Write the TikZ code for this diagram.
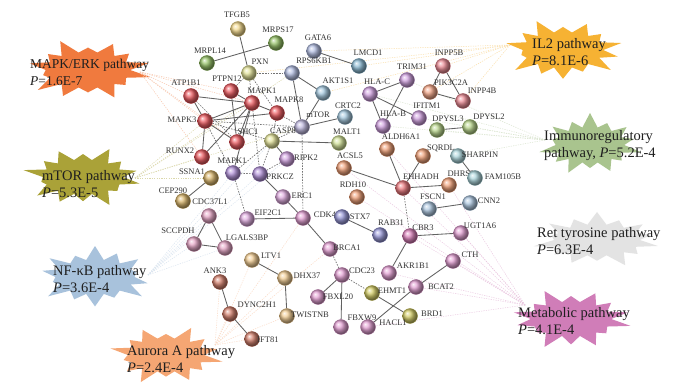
\documentclass[tikz,border=0pt]{standalone}
\usepackage{fontspec}
\setmainfont{Liberation Serif}
\pgfdeclarelayer{bursts}
\pgfdeclarelayer{links}
\pgfsetlayers{bursts,links,main}
\definecolor{cRed}{HTML}{E8333A}
\definecolor{cYel}{HTML}{F0D070}
\definecolor{cPaleY}{HTML}{DCDC80}
\definecolor{cGreen}{HTML}{7CB342}
\definecolor{cSlate}{HTML}{A0AEDC}
\definecolor{cLtBlue}{HTML}{8FBCD8}
\definecolor{cTeal}{HTML}{6FA9C8}
\definecolor{cLav}{HTML}{B0A8D8}
\definecolor{cPurple}{HTML}{A078D0}
\definecolor{cLilac}{HTML}{C58AD8}
\definecolor{cPinkRed}{HTML}{E8707C}
\definecolor{cSalmon}{HTML}{F0906A}
\definecolor{cOlG}{HTML}{A8CC70}
\definecolor{cPaleG}{HTML}{C8DC80}
\definecolor{cOrange}{HTML}{EC8A58}
\definecolor{cEhh}{HTML}{E85A60}
\definecolor{cCyan}{HTML}{98CCD4}
\definecolor{cSteel}{HTML}{98B8D8}
\definecolor{cIndigo}{HTML}{8080D0}
\definecolor{cPink}{HTML}{DC88C8}
\definecolor{cMag}{HTML}{D060A8}
\definecolor{cPinkL}{HTML}{D898D8}
\definecolor{cOliveY}{HTML}{C8C040}
\definecolor{cOchre}{HTML}{D0A448}
\definecolor{cTan}{HTML}{EEC078}
\definecolor{cBrown}{HTML}{C86048}
\definecolor{cPinkB}{HTML}{E090B8}
\definecolor{bMAPK}{HTML}{F07A3E}
\definecolor{bMTOR}{HTML}{AAA238}
\definecolor{bNFKB}{HTML}{A8C2DC}
\definecolor{bAUR}{HTML}{F5A673}
\definecolor{bIL}{HTML}{F6B233}
\definecolor{bIMM}{HTML}{A9C48E}
\definecolor{bRET}{HTML}{E3E3E3}
\definecolor{bMET}{HTML}{D07DB8}
\tikzset{
  ball/.style={circle, minimum size=15pt, inner sep=0pt, shade, ball color=#1!78!white, draw=#1!70!black, line width=0.3pt},
  lab/.style={font=\fontsize{8.5}{9}\selectfont, text=black!80, inner sep=0pt},
  ptext/.style={anchor=west, align=left, inner sep=0pt, text=black!88, font=\fontsize{14.5}{17}\selectfont},
  pe/.style={draw=black!62, line width=0.85pt},
  pd/.style={draw=black!55, line width=0.7pt, dash pattern=on 1.5pt off 1.3pt},
  pw/.style={draw=#1!42!white, line width=0.5pt, dash pattern=on 1.2pt off 1.2pt}
}
\newcommand\prot[5]{\node[ball=#3] (#1) at (#2) {}; \node[lab] (#1l) at (#4) {#5};}
\newcommand\burst[5]{%
  \pgfmathsetmacro\bxi{0.66*#2}\pgfmathsetmacro\byi{0.56*#3}%
  \fill[#4, shift={(#1)}] (0:{\bxi} and {\byi})
  \foreach \f [count=\i from 0, evaluate=\i as \ao using \i*360/14+180/14,
     evaluate=\i as \ai using (\i+1)*360/14, evaluate=\f as \xo using \f*#2,
     evaluate=\f as \yo using \f*#3] in {#5} { -- (\ao:{\xo} and {\yo}) -- (\ai:{\bxi} and {\byi}) } -- cycle;}
\begin{document}
\begin{tikzpicture}[x=1pt,y=-1pt]
\useasboundingbox (0,0) rectangle (681,385);
% ---------- bursts ----------
\begin{pgfonlayer}{bursts}
\fill[white] (0,0) rectangle (681,385);
\burst{88,70}{64}{32}{bMAPK}{1,0.75,0.95,0.7,0.9,1,0.72,0.93,0.8,1,0.7,0.9,0.82,0.97}
\burst{83,177}{61}{31}{bMTOR}{0.95,0.72,1,0.78,0.88,0.96,0.7,1,0.82,0.92,0.74,1,0.8,0.9}
\burst{95,277}{60}{31}{bNFKB}{0.9,1,0.74,0.95,0.8,1,0.72,0.9,0.97,0.76,1,0.84,0.92,0.7}
\burst{166,355}{58}{30}{bAUR}{1,0.8,0.92,0.72,1,0.86,0.75,0.98,0.8,0.93,0.7,1,0.85,0.9}
\burst{563,50}{61}{32}{bIL}{0.92,1,0.75,0.9,0.82,1,0.7,0.95,0.85,1,0.72,0.9,0.8,0.98}
\burst{590,145}{52}{32}{bIMM}{1,0.78,0.9,0.72,0.96,0.84,1,0.74,0.92,0.8,1,0.76,0.9,0.86}
\burst{597,240}{65}{28}{bRET}{0.96,0.8,1,0.74,0.9,0.84,1,0.72,0.94,0.82,1,0.78,0.9,0.86}
\burst{571,319}{61}{31}{bMET}{1,0.74,0.94,0.82,1,0.7,0.9,0.96,0.78,1,0.74,0.92,0.84,0.95}
\end{pgfonlayer}
% ---------- pathway texts ----------
\node[ptext, font=\fontsize{13.5}{17}\selectfont] (tMAPK) at (30,72) {MAPK/ERK pathway\\\textit{P}=1.6E-7};
\node[ptext] (tMTOR) at (42,184) {mTOR pathway\\\textit{P}=5.3E-5};
\node[ptext] (tNFKB) at (53,279) {NF-κB pathway\\\textit{P}=3.6E-4};
\node[ptext] (tAUR) at (127,359) {Aurora A pathway\\\textit{P}=2.4E-4};
\node[ptext] (tIL) at (532,52) {IL2 pathway\\\textit{P}=8.1E-6};
\node[ptext] (tIMM) at (544,146) {Immunoregulatory\\pathway, \textit{P}=5.2E-4};
\node[ptext] (tRET) at (537,241) {Ret tyrosine pathway\\\textit{P}=6.3E-4};
\node[ptext] (tMET) at (518,321) {Metabolic pathway\\\textit{P}=4.1E-4};
% ---------- proteins ----------
\prot{TFGB5}{238,29}{cYel}{237,15}{TFGB5}
\prot{MRPS17}{276,43}{cGreen}{278,30}{MRPS17}
\prot{MRPL14}{207,63}{cGreen}{210,51}{MRPL14}
\prot{GATA6}{314,51}{cSlate}{318,38}{GATA6}
\prot{PXN}{249,73}{cPaleY}{260,62}{PXN}
\prot{RPS6KB1}{292,73}{cSlate}{314,61}{RPS6KB1}
\prot{LMCD1}{359,66}{cTeal}{368,53}{LMCD1}
\prot{ATP1B1}{191,96}{cRed}{186,83}{ATP1B1}
\prot{PTPN12}{231,91}{cRed}{227,79}{PTPN12}
\prot{MAPKa}{252,103}{cRed}{262,91}{MAPK1}
\prot{AKT1S1}{323,93}{cLtBlue}{338,81}{AKT1S1}
\prot{MAPK8}{277,113}{cRed}{289,100}{MAPK8}
\prot{MAPK3}{205,121}{cRed}{182,120}{MAPK3}
\prot{MTOR}{302,127}{cLav}{318,115}{mTOR}
\prot{CRTC2}{345,117}{cLtBlue}{348,106}{CRTC2}
\prot{SHC1}{237,142}{cRed}{248,132}{SHC1}
\prot{CASP8}{272,141}{cPaleY}{283,131}{CASP8}
\prot{RUNX2}{202,157}{cRed}{180,151}{RUNX2}
\prot{MALT1}{339,143}{cPaleG}{347,132}{MALT1}
\prot{MAPKb}{233,173}{cPurple}{232,161}{MAPK1}
\prot{PRKCZ}{260,174}{cPurple}{280,177}{PRKCZ}
\prot{RIPK2}{287,159}{cLilac}{306,158}{RIPK2}
\prot{SSNA1}{211,178}{cOchre}{192,172}{SSNA1}
\prot{CEP290}{183,201}{cOchre}{173,191}{CEP290}
\prot{ERC1}{283,197}{cPinkL}{302,196}{ERC1}
\prot{CDC37L1}{209,216}{cPinkB}{210,202}{CDC37L1}
\prot{EIF2C1}{247,219}{cPinkL}{268,213}{EIF2C1}
\prot{CDK4}{303,218}{cPink}{325,215}{CDK4}
\prot{SCCPDH}{194,244}{cPinkB}{178,231}{SCCPDH}
\prot{LGALS3BP}{225,248}{cPinkB}{247,238}{LGALS3BP}
\prot{STX7}{342,217}{cIndigo}{360,217}{STX7}
\prot{BRCA1}{330,249}{cPink}{347,248}{BRCA1}
\prot{HLAC}{370,94}{cLilac}{377,82}{HLA-C}
\prot{TRIM31}{407,80}{cLilac}{412,67}{TRIM31}
\prot{INPP5B}{443,66}{cPinkRed}{449,53}{INPP5B}
\prot{PIK3C2A}{430,92}{cSalmon}{451,83}{PIK3C2A}
\prot{INPP4B}{463,101}{cPinkRed}{482,91}{INPP4B}
\prot{IFITM1}{419,118}{cLilac}{427,106}{IFITM1}
\prot{HLAB}{383,126}{cLilac}{393,114}{HLA-B}
\prot{DPYSL3}{437,130}{cOlG}{448,119}{DPYSL3}
\prot{DPYSL2}{470,127}{cOlG}{489,117}{DPYSL2}
\prot{ALDH6A1}{387,149}{cOrange}{401,137}{ALDH6A1}
\prot{ACSL5}{344,168}{cOrange}{350,156}{ACSL5}
\prot{SQRDL}{423,156}{cOrange}{441,148}{SQRDL}
\prot{SHARPIN}{458,156}{cCyan}{480,155}{SHARPIN}
\prot{EHHADH}{403,188}{cEhh}{421,177}{EHHADH}
\prot{DHRS3}{449,185}{cOrange}{461,174}{DHRS3}
\prot{FAM105B}{475,178}{cCyan}{503,177}{FAM105B}
\prot{RDH10}{357,197}{cOrange}{353,185}{RDH10}
\prot{FSCN1}{429,209}{cSteel}{433,197}{FSCN1}
\prot{CNN2}{470,203}{cSteel}{489,201}{CNN2}
\prot{RAB31}{380,235}{cIndigo}{391,223}{RAB31}
\prot{CBR3}{410,236}{cMag}{423,228}{CBR3}
\prot{UGT1A6}{461,233}{cPink}{480,226}{UGT1A6}
\prot{LTV1}{252,260}{cTan}{271,256}{LTV1}
\prot{ANK3}{220,282}{cBrown}{215,271}{ANK3}
\prot{DHX37}{285,278}{cTan}{307,276}{DHX37}
\prot{DYNC2H1}{230,314}{cBrown}{257,305}{DYNC2H1}
\prot{TWISTNB}{287,316}{cTan}{310,315}{TWISTNB}
\prot{IFT81}{252,339}{cBrown}{268,340}{IFT81}
\prot{CDC23}{342,275}{cPink}{362,271}{CDC23}
\prot{AKR1B1}{389,273}{cPink}{413,266}{AKR1B1}
\prot{CTH}{453,261}{cPink}{470,255}{CTH}
\prot{EHMT1}{372,293}{cOliveY}{392,291}{EHMT1}
\prot{BCAT2}{416,287}{cPink}{441,287}{BCAT2}
\prot{FBXL20}{318,297}{cPink}{338,297}{FBXL20}
\prot{BRD1}{410,316}{cOliveY}{432,314}{BRD1}
\prot{FBXW9}{341,327}{cPink}{362,318}{FBXW9}
\prot{HACL1}{368,327}{cPink}{393,323}{HACL1}
% ---------- anchor points of pathway lines ----------
\coordinate (aMAPK) at (140,72);
\coordinate (aMTOR) at (135,178);
\coordinate (aNFKB) at (148,275);
\coordinate (aAUR) at (215,345);
\coordinate (aIL) at (510,45);
\coordinate (aIMM) at (545,140);
\coordinate (aMET) at (525,305);
\begin{pgfonlayer}{links}
\foreach \n in {ATP1B1,PTPN12,MAPKa,MAPK3,SHC1,RUNX2}
  \draw[pw=bMAPK] (aMAPK) -- (\n);
\foreach \n in {MAPK3,RUNX2,SSNA1,MAPKa,RPS6KB1,MTOR}
  \draw[pw=bMTOR] (aMTOR) -- (\n);
\foreach \n in {SCCPDH,CDC37L1,LGALS3BP,MAPKb,PRKCZ,RIPK2,CASP8}
  \draw[pw=bNFKB] (aNFKB) -- (\n);
\foreach \n in {ANK3,DYNC2H1,IFT81,LTV1,DHX37,TWISTNB,CDK4,BRCA1}
  \draw[pw=bAUR] (aAUR) -- (\n);
\foreach \n in {INPP5B,PIK3C2A,INPP4B,LMCD1,GATA6,PXN,AKT1S1}
  \draw[pw=bIL] (aIL) -- (\n);
\foreach \n in {DPYSL2,DPYSL3,IFITM1,HLAB,HLAC,TRIM31,SHARPIN}
  \draw[pw=bIMM] (aIMM) -- (\n);
\foreach \n in {UGT1A6,CTH,BCAT2,HACL1,AKR1B1,CBR3,EHHADH,ALDH6A1,DHRS3,RDH10,ACSL5}
  \draw[pw=bMET] (aMET) -- (\n);
% solid edges
\foreach \a/\b in {TFGB5/PXN,MRPL14/MRPS17,GATA6/LMCD1,RPS6KB1/AKT1S1,RPS6KB1/MTOR,
  AKT1S1/MTOR,MTOR/CRTC2,ATP1B1/MAPKa,ATP1B1/MAPK3,PTPN12/MAPKa,PTPN12/SHC1,
  MAPKa/MAPK3,MAPKa/MAPK8,MAPKa/SHC1,MAPKa/RUNX2,MAPKa/MAPKb,MAPK3/MAPK8,MAPK3/SHC1,
  MAPK3/RUNX2,CASP8/MALT1,CASP8/RIPK2,PRKCZ/ERC1,ERC1/CDK4,EIF2C1/CDK4,CDK4/BRCA1,
  SSNA1/CEP290,CDC37L1/SCCPDH,CDC37L1/LGALS3BP,SCCPDH/LGALS3BP,HLAC/TRIM31,HLAC/HLAB,
  HLAC/IFITM1,TRIM31/HLAB,INPP5B/PIK3C2A,INPP5B/INPP4B,PIK3C2A/INPP4B,DPYSL3/DPYSL2,
  EHHADH/ALDH6A1,EHHADH/ACSL5,EHHADH/SQRDL,EHHADH/DHRS3,SHARPIN/FAM105B,FSCN1/CNN2,
  STX7/RAB31,CBR3/UGT1A6,CBR3/AKR1B1,LTV1/DHX37,DHX37/TWISTNB,ANK3/DYNC2H1,
  DYNC2H1/IFT81,CDC23/FBXL20,CDC23/FBXW9,EHMT1/BRD1,CTH/BCAT2,BCAT2/HACL1}
  \draw[pe] (\a) -- (\b);
% dashed edges
\foreach \a/\b in {PXN/RPS6KB1,PXN/MAPKa,PXN/MAPK8,PXN/PTPN12,MAPK8/MTOR,MAPK8/CASP8,
  MAPKa/PRKCZ,MAPK3/MAPKb,MAPK3/CASP8,MAPK3/MTOR,CASP8/PRKCZ,CASP8/MAPKb,RIPK2/PRKCZ,
  MAPKb/PRKCZ,MAPKb/EIF2C1,MTOR/CDK4,MTOR/CASP8,ATP1B1/SHC1,EHHADH/CBR3,CDC23/BRCA1,
  CDC23/EHMT1}
  \draw[pd] (\a) -- (\b);
\end{pgfonlayer}
\end{tikzpicture}
\end{document}
